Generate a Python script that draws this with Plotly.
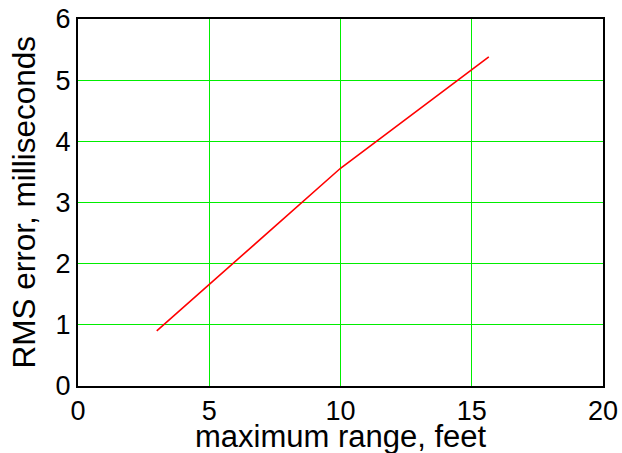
import plotly.graph_objects as go

max_range_feet = [3.0, 10.0, 15.65]
rms_error_ms = [0.9, 3.56, 5.38]

x_ticks = [0, 5, 10, 15, 20]
y_ticks = [0, 1, 2, 3, 4, 5, 6]

fig = go.Figure()
fig.add_trace(go.Scatter(
    x=max_range_feet, y=rms_error_ms, mode="lines",
    line=dict(color="#ff0000", width=1.6), showlegend=False,
))

font_family = "Liberation Sans, Arial, sans-serif"
fig.update_layout(
    width=622, height=453,
    margin=dict(l=78, r=19, t=19, b=67),
    paper_bgcolor="white", plot_bgcolor="white",
    font=dict(family=font_family, color="black", size=27),
)
fig.update_xaxes(
    range=[0, 20], tickvals=x_ticks, ticktext=[str(v) for v in x_ticks],
    showgrid=True, gridcolor="#00ee00", gridwidth=1,
    showline=True, linecolor="black", linewidth=2, mirror=True,
    zeroline=False, ticks="", tickfont=dict(size=27), automargin=False,
)
fig.update_yaxes(
    range=[0, 6], tickvals=y_ticks, ticktext=[str(v) for v in y_ticks],
    showgrid=True, gridcolor="#00ee00", gridwidth=1,
    showline=True, linecolor="black", linewidth=2, mirror=True,
    zeroline=False, ticks="", tickfont=dict(size=27), automargin=False,
)
fig.add_annotation(
    text="maximum range, feet",
    xref="paper", yref="paper", x=0.5, y=0,
    xanchor="center", yanchor="middle", yshift=-50,
    showarrow=False, font=dict(size=31),
)
fig.add_annotation(
    text="RMS error, milliseconds", textangle=-90,
    xref="paper", yref="paper", x=0, y=0.5,
    xanchor="center", yanchor="middle", xshift=-55,
    showarrow=False, font=dict(size=31.5),
)

fig.write_html("out.html", post_script="document.body.style.margin='0px';",
               config={"displayModeBar": False})
